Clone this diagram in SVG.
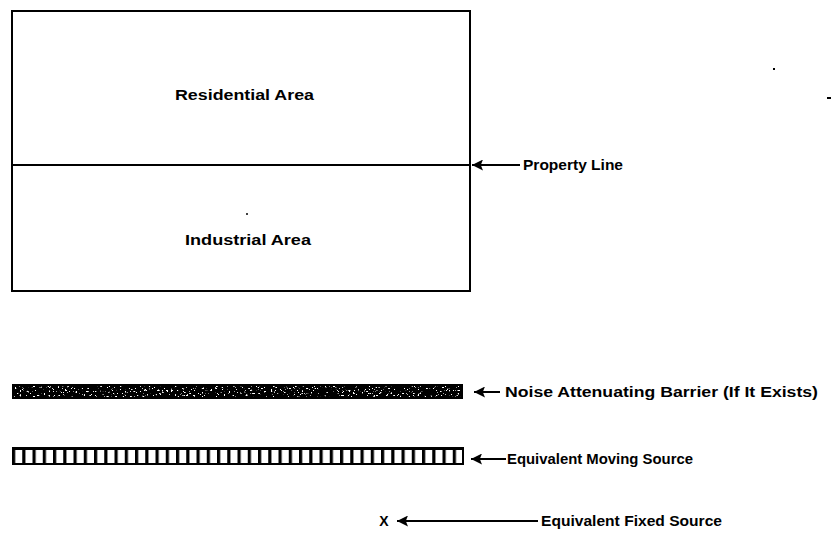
<svg xmlns="http://www.w3.org/2000/svg" width="838" height="552" viewBox="0 0 838 552">
<style>
.lbl{font-family:"Liberation Sans",Arial,sans-serif;font-size:14px;fill:#000;font-weight:bold}
.area{font-family:"Liberation Sans",Arial,sans-serif;font-size:14px;fill:#000;font-weight:bold}
.ln{stroke:#000;stroke-width:2;fill:none}
</style>
<defs>
<marker id="ah" viewBox="0 0 10 10" refX="0" refY="5" markerWidth="6" markerHeight="5.5" orient="auto" markerUnits="strokeWidth">
<path d="M0,5 L10,0 L8,5 L10,10 Z" fill="#000"/>
</marker>
<pattern id="cells" x="12" y="0" width="10.25" height="20" patternUnits="userSpaceOnUse">
<rect x="0" y="0" width="3.2" height="20" fill="#000"/>
</pattern>
<filter id="speck" x="0" y="0" width="1" height="1">
<feTurbulence type="fractalNoise" baseFrequency="0.45 0.6" numOctaves="2" seed="7"/>
<feColorMatrix type="matrix" values="0 0 0 0 1  0 0 0 0 1  0 0 0 0 1  14 0 0 0 -8.8"/>
</filter>
</defs>
<rect x="773" y="68" width="2" height="2" fill="#000"/>
<rect x="827" y="97" width="4" height="2" fill="#000"/>
<g id="site">
<rect x="12" y="11" width="458" height="280" class="ln"/>
<line x1="12" y1="165" x2="470" y2="165" class="ln" stroke-width="2.5"/>
<text class="area" x="175" y="100" textLength="139" lengthAdjust="spacingAndGlyphs">Residential Area</text>
<circle cx="247" cy="214" r="1" fill="#000"/>
<text class="area" x="185" y="245" textLength="126" lengthAdjust="spacingAndGlyphs">Industrial Area</text>
</g>
<g id="barrier">
<rect x="12" y="384" width="451" height="15" fill="#000"/>
<rect x="14" y="386" width="447" height="11" fill="#fff" filter="url(#speck)"/>
</g>
<g id="moving-source">
<rect x="13" y="448" width="450" height="16" fill="url(#cells)" stroke="#000" stroke-width="2"/>
<line x1="12" y1="448.5" x2="463" y2="448.5" stroke="#000" stroke-width="3"/>
</g>
<g id="fixed-source">
<text x="384" y="526" text-anchor="middle" font-family="Liberation Sans, Arial, sans-serif" font-size="14" font-weight="bold">X</text>
</g>
<g id="connectors">
<line x1="472" y1="165" x2="520" y2="165" class="ln" marker-start="url(#ah)"/>
<line x1="474" y1="392" x2="500" y2="392" class="ln" marker-start="url(#ah)"/>
<line x1="471" y1="459" x2="506" y2="459" class="ln" marker-start="url(#ah)"/>
<line x1="397" y1="521" x2="538" y2="521" class="ln" marker-start="url(#ah)"/>
</g>
<g id="labels">
<text class="lbl" x="523" y="170" textLength="100" lengthAdjust="spacingAndGlyphs">Property Line</text>
<text class="lbl" x="505" y="397" textLength="313" lengthAdjust="spacingAndGlyphs">Noise Attenuating Barrier (If It Exists)</text>
<text class="lbl" x="507" y="464" textLength="186" lengthAdjust="spacingAndGlyphs">Equivalent Moving Source</text>
<text class="lbl" x="541" y="526" textLength="181" lengthAdjust="spacingAndGlyphs">Equivalent Fixed Source</text>
</g>
</svg>
